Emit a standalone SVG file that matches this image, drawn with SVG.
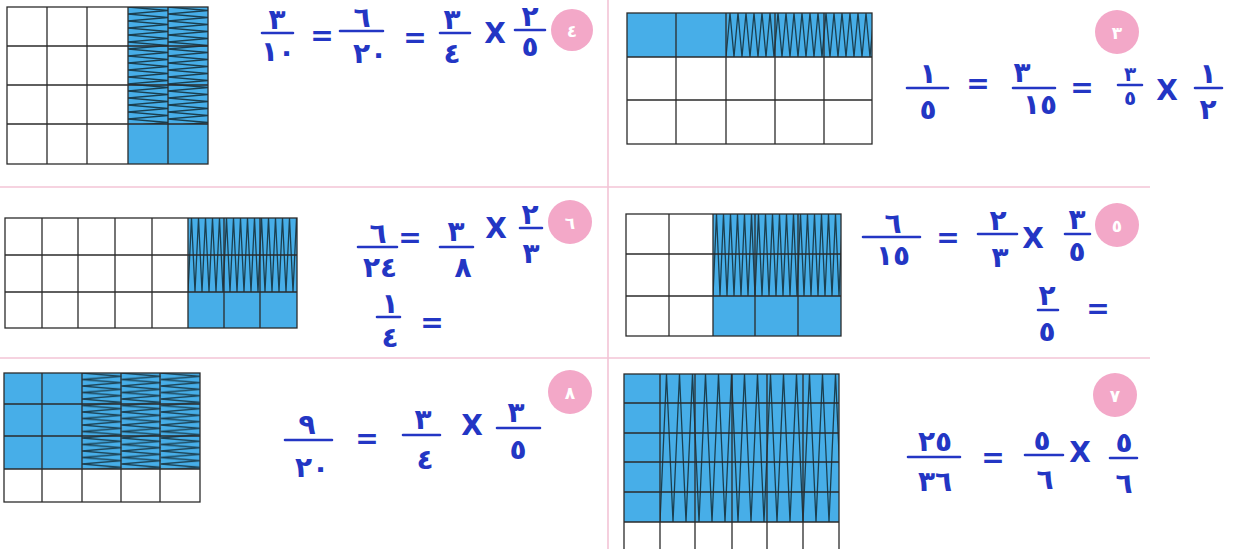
<svg xmlns="http://www.w3.org/2000/svg" width="1234" height="549" viewBox="0 0 1234 549">
<style>
.grid{fill:none;stroke:#2b2b2b;stroke-width:1.3}
.blue{fill:#47aee8}
.div{stroke:#f3c4d6;stroke-width:1.6;fill:none}
.hw{font-family:"DejaVu Sans",sans-serif;font-weight:bold;fill:#2336c4;font-size:28px;text-anchor:middle}
.sm{font-size:20px}
.fl{stroke:#2336c4;stroke-width:2.6;stroke-linecap:round;fill:none}
.badge{fill:#f3a8c8}
.bt{font-family:"DejaVu Sans",sans-serif;font-weight:bold;fill:#ffffff;font-size:17px;text-anchor:middle}
.hz{stroke:#1a3f50;stroke-width:1.3;fill:none}
</style>
<defs>
<pattern id="h1" patternUnits="userSpaceOnUse" x="128" y="7" width="40" height="7"><path class="hz" d="M0 0 L40 3.5 L0 7"/></pattern>
<pattern id="h8" patternUnits="userSpaceOnUse" x="82" y="373" width="39.3" height="6.5"><path class="hz" d="M0 0 L39.3 3.25 L0 6.5"/></pattern>
<pattern id="h3" patternUnits="userSpaceOnUse" x="726" y="13" width="8" height="44"><path class="hz" d="M0 44 L4 0 L8 44"/></pattern>
<pattern id="h6" patternUnits="userSpaceOnUse" x="188" y="218" width="7" height="74"><path class="hz" d="M0 74 L3.5 0 L7 74"/></pattern>
<pattern id="h5" patternUnits="userSpaceOnUse" x="713" y="214" width="7" height="82"><path class="hz" d="M0 82 L3.5 0 L7 82"/></pattern>
<pattern id="h7" patternUnits="userSpaceOnUse" x="660" y="374" width="13" height="148"><path class="hz" d="M0 148 L6.5 0 L13 148" stroke-width="1.8"/></pattern>
</defs>
<rect width="1234" height="549" fill="#ffffff"/>

<g id="dividers">
<line class="div" x1="0" y1="187" x2="1150" y2="187"/>
<line class="div" x1="0" y1="358" x2="1150" y2="358"/>
<line class="div" x1="608" y1="0" x2="608" y2="549"/>
</g>

<g id="grid1">
<rect class="blue" x="128" y="7" width="80" height="157"/>
<rect fill="url(#h1)" x="128" y="7" width="80" height="117"/>
<rect class="grid" x="7" y="7" width="201" height="157"/>
<path class="grid" d="M47 7V164M87 7V164M128 7V164M168 7V164M7 46H208M7 85H208M7 124H208"/>
</g>

<g id="grid3">
<rect class="blue" x="627" y="13" width="245" height="44"/>
<rect fill="url(#h3)" x="726" y="13" width="146" height="44"/>
<rect class="grid" x="627" y="13" width="245" height="131"/>
<path class="grid" d="M676 13V144M726 13V144M775 13V144M824 13V144M627 57H872M627 100H872"/>
</g>

<g id="grid6">
<rect class="blue" x="188" y="218" width="109" height="110"/>
<rect fill="url(#h6)" x="188" y="218" width="109" height="74"/>
<rect class="grid" x="5" y="218" width="292" height="110"/>
<path class="grid" d="M42 218V328M78 218V328M115 218V328M152 218V328M188 218V328M224 218V328M260 218V328M5 255H297M5 292H297"/>
</g>

<g id="grid5">
<rect class="blue" x="713" y="214" width="128" height="122"/>
<rect fill="url(#h5)" x="713" y="214" width="128" height="82"/>
<rect class="grid" x="626" y="214" width="215" height="122"/>
<path class="grid" d="M669 214V336M713 214V336M755 214V336M798 214V336M626 254H841M626 296H841"/>
</g>

<g id="grid8">
<rect class="blue" x="4" y="373" width="196" height="96"/>
<rect fill="url(#h8)" x="82" y="373" width="118" height="96"/>
<rect class="grid" x="4" y="373" width="196" height="129"/>
<path class="grid" d="M42 373V502M82 373V502M121 373V502M160 373V502M4 404H200M4 436H200M4 469H200"/>
</g>

<g id="grid7">
<rect class="blue" x="624" y="374" width="215" height="148"/>
<rect fill="url(#h7)" x="660" y="374" width="179" height="148"/>
<rect class="grid" x="624" y="374" width="215" height="185"/>
<path class="grid" d="M660 374V549M695 374V549M732 374V549M767 374V549M803 374V549M624 403H839M624 433H839M624 462H839M624 492H839M624 522H839"/>
</g>

<g id="badges">
<circle class="badge" cx="572" cy="30" r="21"/><text class="bt" x="572" y="37">٤</text>
<circle class="badge" cx="1117" cy="32" r="22"/><text class="bt" x="1117" y="39">٣</text>
<circle class="badge" cx="570" cy="222" r="22"/><text class="bt" x="570" y="229">٦</text>
<circle class="badge" cx="1117" cy="225" r="22"/><text class="bt" x="1117" y="232">٥</text>
<circle class="badge" cx="570" cy="392" r="22"/><text class="bt" x="570" y="399">٨</text>
<circle class="badge" cx="1115" cy="395" r="22"/><text class="bt" x="1115" y="402">٧</text>
</g>

<g id="eq4">
<path class="fl" d="M262 33H293M340 31H383M440 33H470M515 30H545"/>
<text class="hw" x="277" y="29">٣</text><text class="hw" x="278" y="61">١٠</text>
<text class="hw" x="322" y="45">=</text>
<text class="hw" x="362" y="27">٦</text><text class="hw" x="370" y="63">٢٠</text>
<text class="hw" x="415" y="47">=</text>
<text class="hw" x="452" y="29">٣</text><text class="hw" x="452" y="63">٤</text>
<text class="hw" x="495" y="43">X</text>
<text class="hw" x="530" y="26">٢</text><text class="hw" x="530" y="56">٥</text>
</g>

<g id="eq3">
<path class="fl" d="M907 88H948M1013 88H1055M1118 85H1142M1195 88H1222"/>
<text class="hw" x="928" y="83">١</text><text class="hw" x="928" y="119">٥</text>
<text class="hw" x="978" y="93">=</text>
<text class="hw" x="1022" y="82">٣</text><text class="hw" x="1040" y="114">١٥</text>
<text class="hw" x="1082" y="97">=</text>
<text class="hw sm" x="1130" y="81">٣</text><text class="hw sm" x="1130" y="105">٥</text>
<text class="hw" x="1167" y="100">X</text>
<text class="hw" x="1208" y="83">١</text><text class="hw" x="1208" y="119">٢</text>
</g>

<g id="eq6">
<path class="fl" d="M358 247H397M440 247H473M520 228H542M377 317H400"/>
<text class="hw" x="378" y="243">٦</text><text class="hw" x="380" y="277">٢٤</text>
<text class="hw" x="410" y="247">=</text>
<text class="hw" x="456" y="241">٣</text><text class="hw" x="463" y="277">٨</text>
<text class="hw" x="496" y="238">X</text>
<text class="hw" x="530" y="224">٢</text><text class="hw" x="531" y="263">٣</text>
<text class="hw" x="390" y="313">١</text><text class="hw" x="390" y="347">٤</text>
<text class="hw" x="432" y="332">=</text>
</g>

<g id="eq5">
<path class="fl" d="M863 237H920M978 234H1017M1065 234H1090M1038 310H1058"/>
<text class="hw" x="893" y="233">٦</text><text class="hw" x="893" y="265">١٥</text>
<text class="hw" x="948" y="247">=</text>
<text class="hw" x="998" y="230">٢</text><text class="hw" x="1000" y="267">٣</text>
<text class="hw" x="1033" y="248">X</text>
<text class="hw" x="1077" y="229">٣</text><text class="hw" x="1077" y="261">٥</text>
<text class="hw" x="1047" y="305">٢</text><text class="hw" x="1047" y="341">٥</text>
<text class="hw" x="1098" y="318">=</text>
</g>

<g id="eq8">
<path class="fl" d="M285 440H332M403 435H440M497 428H540"/>
<text class="hw" x="307" y="434">٩</text><text class="hw" x="312" y="477">٢٠</text>
<text class="hw" x="367" y="448">=</text>
<text class="hw" x="423" y="429">٣</text><text class="hw" x="425" y="469">٤</text>
<text class="hw" x="472" y="435">X</text>
<text class="hw" x="516" y="422">٣</text><text class="hw" x="518" y="459">٥</text>
</g>

<g id="eq7">
<path class="fl" d="M908 457H960M1025 455H1063M1110 458H1137"/>
<text class="hw" x="935" y="451">٢٥</text><text class="hw" x="935" y="491">٣٦</text>
<text class="hw" x="993" y="467">=</text>
<text class="hw" x="1042" y="450">٥</text><text class="hw" x="1045" y="489">٦</text>
<text class="hw" x="1080" y="462">X</text>
<text class="hw" x="1124" y="452">٥</text><text class="hw" x="1124" y="493">٦</text>
</g>
</svg>
